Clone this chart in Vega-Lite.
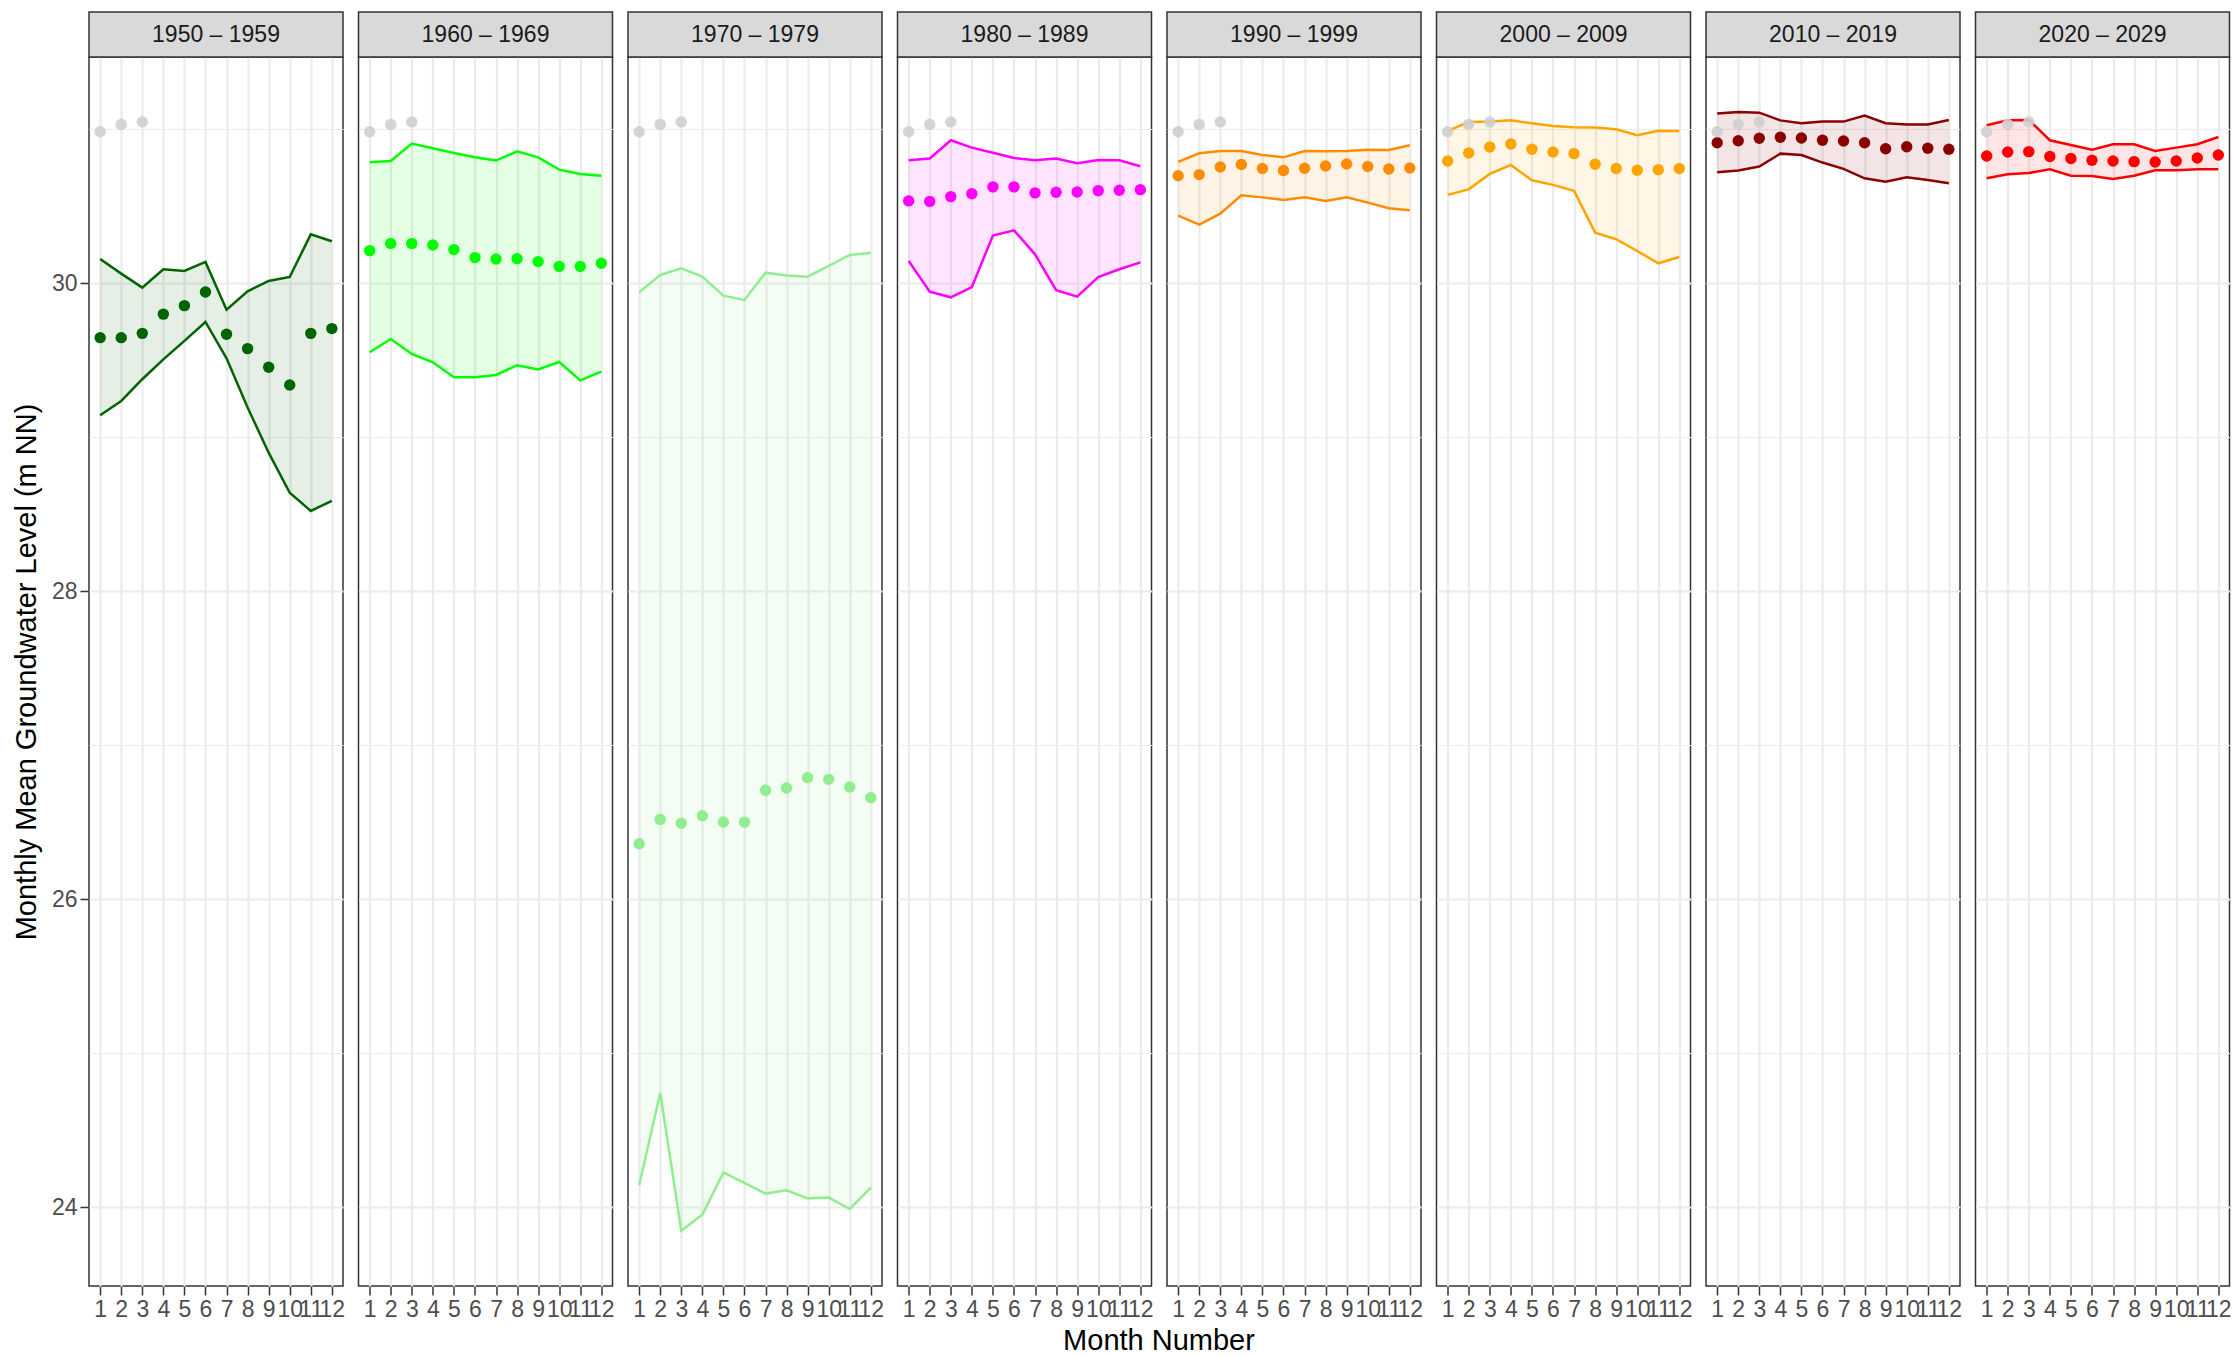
{
  "$schema": "https://vega.github.io/schema/vega-lite/v6.json",
  "padding": {"left": 12, "top": 10, "right": 4, "bottom": 4},
  "background": "white",
  "bounds": "flush",
  "config": {
    "font": "Liberation Sans",
    "view": {"stroke": "#333333", "strokeWidth": 1.5},
    "axis": {"labelFont": "Liberation Sans", "titleFont": "Liberation Sans"}
  },
  "datasets": {
    "gw": [
      {"d": "1950 – 1959", "m": 1, "lo": 29.143, "mean": 29.647, "hi": 30.158, "cur": 30.984},
      {"d": "1950 – 1959", "m": 2, "lo": 29.236, "mean": 29.647, "hi": 30.063, "cur": 31.032},
      {"d": "1950 – 1959", "m": 3, "lo": 29.377, "mean": 29.675, "hi": 29.972, "cur": 31.048},
      {"d": "1950 – 1959", "m": 4, "lo": 29.506, "mean": 29.8, "hi": 30.091},
      {"d": "1950 – 1959", "m": 5, "lo": 29.626, "mean": 29.855, "hi": 30.08},
      {"d": "1950 – 1959", "m": 6, "lo": 29.749, "mean": 29.944, "hi": 30.139},
      {"d": "1950 – 1959", "m": 7, "lo": 29.513, "mean": 29.669, "hi": 29.829},
      {"d": "1950 – 1959", "m": 8, "lo": 29.193, "mean": 29.576, "hi": 29.948},
      {"d": "1950 – 1959", "m": 9, "lo": 28.9, "mean": 29.455, "hi": 30.015},
      {"d": "1950 – 1959", "m": 10, "lo": 28.64, "mean": 29.34, "hi": 30.041},
      {"d": "1950 – 1959", "m": 11, "lo": 28.522, "mean": 29.675, "hi": 30.318},
      {"d": "1950 – 1959", "m": 12, "lo": 28.587, "mean": 29.706, "hi": 30.273},
      {"d": "1960 – 1969", "m": 1, "lo": 29.552, "mean": 30.212, "hi": 30.786, "cur": 30.984},
      {"d": "1960 – 1969", "m": 2, "lo": 29.639, "mean": 30.258, "hi": 30.794, "cur": 31.032},
      {"d": "1960 – 1969", "m": 3, "lo": 29.541, "mean": 30.258, "hi": 30.907, "cur": 31.048},
      {"d": "1960 – 1969", "m": 4, "lo": 29.487, "mean": 30.249, "hi": 30.877},
      {"d": "1960 – 1969", "m": 5, "lo": 29.39, "mean": 30.219, "hi": 30.846},
      {"d": "1960 – 1969", "m": 6, "lo": 29.39, "mean": 30.167, "hi": 30.818},
      {"d": "1960 – 1969", "m": 7, "lo": 29.405, "mean": 30.158, "hi": 30.797},
      {"d": "1960 – 1969", "m": 8, "lo": 29.468, "mean": 30.16, "hi": 30.857},
      {"d": "1960 – 1969", "m": 9, "lo": 29.44, "mean": 30.141, "hi": 30.818},
      {"d": "1960 – 1969", "m": 10, "lo": 29.489, "mean": 30.11, "hi": 30.738},
      {"d": "1960 – 1969", "m": 11, "lo": 29.37, "mean": 30.11, "hi": 30.71},
      {"d": "1960 – 1969", "m": 12, "lo": 29.426, "mean": 30.13, "hi": 30.699},
      {"d": "1970 – 1979", "m": 1, "lo": 24.143, "mean": 26.361, "hi": 29.942, "cur": 30.984},
      {"d": "1970 – 1979", "m": 2, "lo": 24.742, "mean": 26.519, "hi": 30.054, "cur": 31.032},
      {"d": "1970 – 1979", "m": 3, "lo": 23.848, "mean": 26.494, "hi": 30.097, "cur": 31.048},
      {"d": "1970 – 1979", "m": 4, "lo": 23.952, "mean": 26.543, "hi": 30.043},
      {"d": "1970 – 1979", "m": 5, "lo": 24.227, "mean": 26.502, "hi": 29.92},
      {"d": "1970 – 1979", "m": 6, "lo": 24.158, "mean": 26.5, "hi": 29.892},
      {"d": "1970 – 1979", "m": 7, "lo": 24.089, "mean": 26.708, "hi": 30.069},
      {"d": "1970 – 1979", "m": 8, "lo": 24.11, "mean": 26.723, "hi": 30.05},
      {"d": "1970 – 1979", "m": 9, "lo": 24.058, "mean": 26.79, "hi": 30.043},
      {"d": "1970 – 1979", "m": 10, "lo": 24.063, "mean": 26.779, "hi": 30.113},
      {"d": "1970 – 1979", "m": 11, "lo": 23.989, "mean": 26.729, "hi": 30.184},
      {"d": "1970 – 1979", "m": 12, "lo": 24.128, "mean": 26.66, "hi": 30.199},
      {"d": "1980 – 1989", "m": 1, "lo": 30.145, "mean": 30.535, "hi": 30.799, "cur": 30.984},
      {"d": "1980 – 1989", "m": 2, "lo": 29.946, "mean": 30.532, "hi": 30.81, "cur": 31.032},
      {"d": "1980 – 1989", "m": 3, "lo": 29.909, "mean": 30.563, "hi": 30.929, "cur": 31.048},
      {"d": "1980 – 1989", "m": 4, "lo": 29.976, "mean": 30.582, "hi": 30.881},
      {"d": "1980 – 1989", "m": 5, "lo": 30.31, "mean": 30.626, "hi": 30.848},
      {"d": "1980 – 1989", "m": 6, "lo": 30.344, "mean": 30.626, "hi": 30.814},
      {"d": "1980 – 1989", "m": 7, "lo": 30.188, "mean": 30.587, "hi": 30.799},
      {"d": "1980 – 1989", "m": 8, "lo": 29.955, "mean": 30.591, "hi": 30.81},
      {"d": "1980 – 1989", "m": 9, "lo": 29.913, "mean": 30.593, "hi": 30.779},
      {"d": "1980 – 1989", "m": 10, "lo": 30.041, "mean": 30.602, "hi": 30.801},
      {"d": "1980 – 1989", "m": 11, "lo": 30.091, "mean": 30.604, "hi": 30.799},
      {"d": "1980 – 1989", "m": 12, "lo": 30.136, "mean": 30.608, "hi": 30.76},
      {"d": "1990 – 1999", "m": 1, "lo": 30.439, "mean": 30.699, "hi": 30.788, "cur": 30.984},
      {"d": "1990 – 1999", "m": 2, "lo": 30.381, "mean": 30.706, "hi": 30.844, "cur": 31.032},
      {"d": "1990 – 1999", "m": 3, "lo": 30.452, "mean": 30.755, "hi": 30.859, "cur": 31.048},
      {"d": "1990 – 1999", "m": 4, "lo": 30.571, "mean": 30.771, "hi": 30.859},
      {"d": "1990 – 1999", "m": 5, "lo": 30.558, "mean": 30.745, "hi": 30.833},
      {"d": "1990 – 1999", "m": 6, "lo": 30.541, "mean": 30.732, "hi": 30.818},
      {"d": "1990 – 1999", "m": 7, "lo": 30.558, "mean": 30.747, "hi": 30.859},
      {"d": "1990 – 1999", "m": 8, "lo": 30.535, "mean": 30.762, "hi": 30.857},
      {"d": "1990 – 1999", "m": 9, "lo": 30.558, "mean": 30.775, "hi": 30.859},
      {"d": "1990 – 1999", "m": 10, "lo": 30.524, "mean": 30.758, "hi": 30.868},
      {"d": "1990 – 1999", "m": 11, "lo": 30.487, "mean": 30.742, "hi": 30.866},
      {"d": "1990 – 1999", "m": 12, "lo": 30.474, "mean": 30.749, "hi": 30.896},
      {"d": "2000 – 2009", "m": 1, "lo": 30.574, "mean": 30.794, "hi": 30.989, "cur": 30.984},
      {"d": "2000 – 2009", "m": 2, "lo": 30.61, "mean": 30.846, "hi": 31.048, "cur": 31.032},
      {"d": "2000 – 2009", "m": 3, "lo": 30.71, "mean": 30.885, "hi": 31.05, "cur": 31.048},
      {"d": "2000 – 2009", "m": 4, "lo": 30.768, "mean": 30.905, "hi": 31.058},
      {"d": "2000 – 2009", "m": 5, "lo": 30.669, "mean": 30.87, "hi": 31.039},
      {"d": "2000 – 2009", "m": 6, "lo": 30.639, "mean": 30.853, "hi": 31.022},
      {"d": "2000 – 2009", "m": 7, "lo": 30.6, "mean": 30.842, "hi": 31.013},
      {"d": "2000 – 2009", "m": 8, "lo": 30.329, "mean": 30.773, "hi": 31.011},
      {"d": "2000 – 2009", "m": 9, "lo": 30.286, "mean": 30.745, "hi": 31.0},
      {"d": "2000 – 2009", "m": 10, "lo": 30.21, "mean": 30.734, "hi": 30.961},
      {"d": "2000 – 2009", "m": 11, "lo": 30.13, "mean": 30.738, "hi": 30.991},
      {"d": "2000 – 2009", "m": 12, "lo": 30.171, "mean": 30.745, "hi": 30.989},
      {"d": "2010 – 2019", "m": 1, "lo": 30.721, "mean": 30.913, "hi": 31.102, "cur": 30.984},
      {"d": "2010 – 2019", "m": 2, "lo": 30.732, "mean": 30.926, "hi": 31.113, "cur": 31.032},
      {"d": "2010 – 2019", "m": 3, "lo": 30.758, "mean": 30.942, "hi": 31.108, "cur": 31.048},
      {"d": "2010 – 2019", "m": 4, "lo": 30.842, "mean": 30.948, "hi": 31.058},
      {"d": "2010 – 2019", "m": 5, "lo": 30.833, "mean": 30.944, "hi": 31.039},
      {"d": "2010 – 2019", "m": 6, "lo": 30.784, "mean": 30.929, "hi": 31.05},
      {"d": "2010 – 2019", "m": 7, "lo": 30.743, "mean": 30.924, "hi": 31.05},
      {"d": "2010 – 2019", "m": 8, "lo": 30.682, "mean": 30.913, "hi": 31.089},
      {"d": "2010 – 2019", "m": 9, "lo": 30.66, "mean": 30.874, "hi": 31.039},
      {"d": "2010 – 2019", "m": 10, "lo": 30.688, "mean": 30.887, "hi": 31.032},
      {"d": "2010 – 2019", "m": 11, "lo": 30.671, "mean": 30.877, "hi": 31.032},
      {"d": "2010 – 2019", "m": 12, "lo": 30.649, "mean": 30.87, "hi": 31.061},
      {"d": "2020 – 2029", "m": 1, "lo": 30.682, "mean": 30.827, "hi": 31.026, "cur": 30.984},
      {"d": "2020 – 2029", "m": 2, "lo": 30.708, "mean": 30.853, "hi": 31.058, "cur": 31.032},
      {"d": "2020 – 2029", "m": 3, "lo": 30.716, "mean": 30.855, "hi": 31.061, "cur": 31.048},
      {"d": "2020 – 2029", "m": 4, "lo": 30.74, "mean": 30.823, "hi": 30.929},
      {"d": "2020 – 2029", "m": 5, "lo": 30.699, "mean": 30.81, "hi": 30.898},
      {"d": "2020 – 2029", "m": 6, "lo": 30.697, "mean": 30.799, "hi": 30.868},
      {"d": "2020 – 2029", "m": 7, "lo": 30.677, "mean": 30.794, "hi": 30.903},
      {"d": "2020 – 2029", "m": 8, "lo": 30.699, "mean": 30.79, "hi": 30.903},
      {"d": "2020 – 2029", "m": 9, "lo": 30.734, "mean": 30.788, "hi": 30.859},
      {"d": "2020 – 2029", "m": 10, "lo": 30.734, "mean": 30.794, "hi": 30.881},
      {"d": "2020 – 2029", "m": 11, "lo": 30.74, "mean": 30.814, "hi": 30.903},
      {"d": "2020 – 2029", "m": 12, "lo": 30.74, "mean": 30.833, "hi": 30.95}
    ]
  },
  "data": {"name": "gw"},
  "facet": {
    "column": {
      "field": "d",
      "type": "nominal",
      "sort": ["1950 – 1959", "1960 – 1969", "1970 – 1979", "1980 – 1989", "1990 – 1999", "2000 – 2009", "2010 – 2019", "2020 – 2029"],
      "title": "Month Number",
      "header": {
        "labels": false,
        "titleOrient": "bottom",
        "titleFont": "Liberation Sans",
        "titleFontSize": 29,
        "titleFontWeight": "normal",
        "titleColor": "#000000",
        "titlePadding": -4
      }
    }
  },
  "spacing": {"column": 15.5},
  "spec": {
    "width": 254,
    "height": 1229,
    "encoding": {
      "x": {
        "field": "m",
        "type": "quantitative",
        "scale": {"domain": [0.47, 12.53], "nice": false, "zero": false},
        "axis": {
          "values": [1, 2, 3, 4, 5, 6, 7, 8, 9, 10, 11, 12],
          "grid": true,
          "gridColor": "#EBEBEB",
          "gridWidth": 2.2,
          "domain": false,
          "tickColor": "#333333",
          "tickSize": 9,
          "tickWidth": 1.5,
          "labelFontSize": 23,
          "labelColor": "#4D4D4D",
          "labelOverlap": false,
          "labelBound": false,
          "labelFlush": false,
          "labelPadding": 3,
          "title": null
        }
      }
    },
    "layer": [
      {
        "transform": [{"filter": "datum.m == 1"}],
        "mark": {"type": "rect", "fill": "#D9D9D9", "stroke": "#333333", "strokeWidth": 1.5, "clip": false},
        "encoding": {
          "x": {"datum": 0.47, "type": "quantitative"},
          "x2": {"datum": 12.53},
          "y": {"datum": 31.4695, "type": "quantitative"},
          "y2": {"datum": 31.7617}
        }
      },
      {
        "transform": [{"filter": "datum.m == 1"}],
        "mark": {"type": "text", "fontSize": 23, "color": "#1A1A1A", "baseline": "middle", "align": "center", "clip": false},
        "encoding": {
          "x": {"datum": 6.5, "type": "quantitative"},
          "y": {"datum": 31.6156, "type": "quantitative"},
          "text": {"field": "d"}
        }
      },
      {
        "mark": {"type": "area", "fillOpacity": 0.1},
        "encoding": {
          "y": {
            "field": "lo",
            "type": "quantitative",
            "scale": {"domain": [23.489, 31.4695], "nice": false, "zero": false},
            "axis": {
              "values": [24, 25, 26, 27, 28, 29, 30, 31],
              "format": "d",
              "labelExpr": "datum.value % 2 === 0 ? datum.label : ''",
              "grid": true,
              "gridColor": "#EBEBEB",
              "gridWidth": {"condition": {"test": "datum.value % 2 === 0", "value": 2.2}, "value": 1.1},
              "tickOpacity": {"condition": {"test": "datum.value % 2 === 0", "value": 1}, "value": 0},
              "domain": false,
              "tickColor": "#333333",
              "tickSize": 9,
              "tickWidth": 1.5,
              "labelFontSize": 23,
              "labelColor": "#4D4D4D",
              "labelPadding": 3,
              "title": "Monthly Mean Groundwater Level (m NN)",
              "titleFontSize": 29,
              "titleFontWeight": "normal",
              "titleColor": "#000000",
              "titlePadding": 10
            }
          },
          "y2": {"field": "hi"},
          "color": {
            "field": "d",
            "type": "nominal",
            "scale": {
              "domain": ["1950 – 1959", "1960 – 1969", "1970 – 1979", "1980 – 1989", "1990 – 1999", "2000 – 2009", "2010 – 2019", "2020 – 2029"],
              "range": ["#006400", "#00FF00", "#90EE90", "#FF00FF", "#FF8C00", "#FFA500", "#8B0000", "#FF0000"]
            },
            "legend": null
          }
        }
      },
      {
        "mark": {"type": "line", "strokeWidth": 2.5},
        "encoding": {
          "y": {"field": "lo", "type": "quantitative"},
          "color": {"field": "d", "type": "nominal", "legend": null}
        }
      },
      {
        "mark": {"type": "line", "strokeWidth": 2.5},
        "encoding": {
          "y": {"field": "hi", "type": "quantitative"},
          "color": {"field": "d", "type": "nominal", "legend": null}
        }
      },
      {
        "mark": {"type": "point", "filled": true, "size": 130, "opacity": 1},
        "encoding": {
          "y": {"field": "mean", "type": "quantitative"},
          "color": {"field": "d", "type": "nominal", "legend": null}
        }
      },
      {
        "mark": {"type": "point", "filled": true, "size": 130, "opacity": 0.9, "color": "#CFCFCF"},
        "encoding": {
          "y": {"field": "cur", "type": "quantitative"}
        }
      }
    ]
  }
}
